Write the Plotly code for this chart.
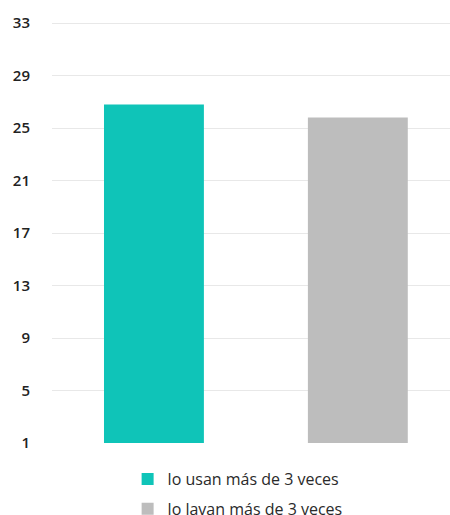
import plotly.graph_objects as go

categories = ["lo usan más de 3 veces", "lo lavan más de 3 veces"]
values = [26.8, 25.8]
colors = ["#0fc4b8", "#bdbdbd"]
tick_vals = [1, 5, 9, 13, 17, 21, 25, 29, 33]

fig = go.Figure()
for i, (name, v, c) in enumerate(zip(categories, values, colors)):
    fig.add_trace(go.Bar(
        x=[name], y=[v], name=name, marker=dict(color=c, line=dict(width=0)),
        width=0.49, legendgroup=f"g{i}", base=0,
    ))

fig.update_layout(
    width=450, height=515,
    margin=dict(l=52, r=0, t=20, b=72, autoexpand=False),
    paper_bgcolor="white", plot_bgcolor="white",
    font=dict(family="Open Sans", color="#333333", size=14),
    showlegend=True,
    legend=dict(orientation="v", x=0.19, xanchor="left", y=-0.045, yanchor="top",
                font=dict(size=16, color="#2a2a2a"), tracegroupgap=6,
                itemclick=False),
    bargap=0.5,
    xaxis=dict(type="category", range=[-0.5, 1.452], showticklabels=False,
               showgrid=False, zeroline=False, showline=False, ticks=""),
    yaxis=dict(range=[1, 33.23], tickvals=tick_vals, showgrid=True,
               gridcolor="#e8e8e8", gridwidth=1, zeroline=False, showline=False,
               ticks="", ticklabelstandoff=21,
               tickfont=dict(size=15, color="#222222", weight=600)),
)

fig.write_html("out.html")
